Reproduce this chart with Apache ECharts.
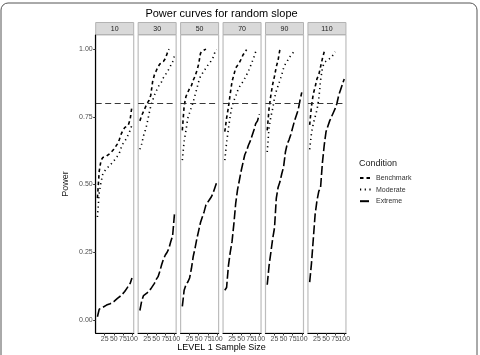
<!DOCTYPE html>
<html>
<head>
<meta charset="utf-8">
<script src="https://cdn.jsdelivr.net/npm/echarts@6/dist/echarts.min.js"></script>
<style>
  html, body { margin: 0; padding: 0; background: #fff; }
  #chart { width: 480px; height: 355px; }
</style>
</head>
<body>
<div id="chart"></div>
<script>
// level-2 sample sizes (facets) and level-1 sample sizes (x)
const panelLabels = ['10', '30', '50', '70', '90', '110']
const sampleSizes = [5, 10, 15, 20, 25, 30, 35, 40, 45, 50, 55, 60, 65, 70, 75, 80, 85, 90, 95, 100]
const conditions = ['Benchmark', 'Moderate', 'Extreme']
const yTicks = [0, 0.25, 0.5, 0.75, 1]
const xTicks = [25, 50, 75, 100]
const targetPower = 0.8

// power per panel, paired with sampleSizes by index
const benchmark = [
  [0.45, 0.55, 0.59, 0.60, 0.60, 0.605, 0.61, 0.615, 0.62, 0.63, 0.64, 0.65, 0.665, 0.685, 0.70, 0.71, 0.715, 0.72, 0.74, 0.79],
  [0.735, 0.755, 0.77, 0.785, 0.80, 0.81, 0.83, 0.88, 0.905, 0.92, 0.935, 0.945, 0.95, 0.955, 0.965, 0.984, 1.0],
  [0.70, 0.79, 0.825, 0.84, 0.855, 0.865, 0.885, 0.90, 0.92, 0.945, 0.985, 0.993, 0.995, 1.0],
  [0.695, 0.745, 0.785, 0.835, 0.88, 0.905, 0.93, 0.94, 0.95, 0.963, 0.978, 0.988, 0.998],
  [0.70, 0.78, 0.83, 0.87, 0.90, 0.935, 0.96, 1.0],
  [0.72, 0.79, 0.835, 0.86, 0.89, 0.905, 0.935, 0.965, 0.99]
]
const moderate = [
  [0.38, 0.47, 0.51, 0.54, 0.55, 0.56, 0.565, 0.57, 0.58, 0.585, 0.595, 0.605, 0.615, 0.635, 0.65, 0.66, 0.67, 0.685, 0.70, 0.72],
  [0.63, 0.65, 0.68, 0.70, 0.726, 0.76, 0.79, 0.81, 0.83, 0.845, 0.86, 0.87, 0.88, 0.895, 0.905, 0.915, 0.927, 0.94, 0.953, 0.975],
  [0.59, 0.66, 0.70, 0.745, 0.765, 0.785, 0.805, 0.83, 0.855, 0.88, 0.90, 0.91, 0.92, 0.93, 0.94, 0.948, 0.958, 0.97, 0.99, 0.998],
  [0.59, 0.655, 0.705, 0.755, 0.79, 0.81, 0.825, 0.845, 0.86, 0.87, 0.88, 0.892, 0.905, 0.918, 0.935, 0.952, 0.97, 0.99, 1.0],
  [0.62, 0.71, 0.75, 0.78, 0.82, 0.845, 0.865, 0.885, 0.905, 0.93, 0.945, 0.955, 0.968, 0.975, 0.985, 0.993],
  [0.63, 0.69, 0.725, 0.75, 0.775, 0.815, 0.885, 0.93, 0.95, 0.955, 0.96, 0.965, 0.97, 0.98, 0.99]
]
const extreme = [
  [0.012, 0.04, 0.045, 0.047, 0.05, 0.055, 0.058, 0.06, 0.065, 0.068, 0.075, 0.08, 0.085, 0.09, 0.095, 0.105, 0.115, 0.125, 0.135, 0.155],
  [0.035, 0.07, 0.09, 0.095, 0.10, 0.105, 0.115, 0.125, 0.135, 0.15, 0.16, 0.18, 0.205, 0.225, 0.24, 0.25, 0.265, 0.29, 0.31, 0.39],
  [0.05, 0.11, 0.13, 0.14, 0.155, 0.19, 0.235, 0.265, 0.30, 0.33, 0.36, 0.38, 0.40, 0.425, 0.435, 0.445, 0.455, 0.47, 0.49, 0.51],
  [0.11, 0.12, 0.20, 0.25, 0.29, 0.355, 0.43, 0.48, 0.515, 0.55, 0.58, 0.61, 0.625, 0.645, 0.66, 0.68, 0.70, 0.725, 0.735, 0.76],
  [0.13, 0.20, 0.25, 0.30, 0.34, 0.45, 0.49, 0.51, 0.54, 0.565, 0.62, 0.65, 0.665, 0.685, 0.71, 0.735, 0.755, 0.775, 0.81, 0.84],
  [0.14, 0.21, 0.30, 0.39, 0.44, 0.475, 0.49, 0.58, 0.645, 0.695, 0.715, 0.735, 0.75, 0.765, 0.78, 0.80, 0.83, 0.85, 0.87, 0.89]
]

const font = 'Liberation Sans, Arial, sans-serif'
const dashes = { Benchmark: [3.5, 3], Moderate: [1.2, 3.5], Extreme: [9, 3] }
const powerByCondition = { Benchmark: benchmark, Moderate: moderate, Extreme: extreme }

const panelLeft = 95.7
const panelPitch = 42.45
const panelWidth = 38
const panelTop = 35
const panelHeight = 298

const chart = echarts.init(document.getElementById('chart'), null, { renderer: 'canvas' })

const grids = []
const xAxes = []
const yAxes = []
const series = []
const graphics = []

const xLabelStyle = { fontSize: 7, margin: 3, color: '#4d4d4d', fontFamily: font }

panelLabels.forEach((label, i) => {
  const left = panelLeft + i * panelPitch
  grids.push({
    left: left, top: panelTop, width: panelWidth, height: panelHeight,
    show: true, borderColor: '#bdbdbd', borderWidth: 1.2, backgroundColor: '#fff'
  })
  // main x axis: line, all ticks, labels 25/50/75
  xAxes.push({
    gridIndex: i, type: 'value', min: 0.25, max: 104.75, position: 'bottom',
    axisLine: { show: true, onZero: false, lineStyle: { color: '#000', width: 1.2 } },
    axisTick: { show: true, length: 2.5, customValues: xTicks, lineStyle: { color: '#333' } },
    axisLabel: Object.assign({ show: true, customValues: xTicks.slice(0, 3) }, xLabelStyle),
    splitLine: { show: false }
  })
  // second bottom axis only for the last label, so it is not dropped for touching "75"
  xAxes.push({
    gridIndex: i, type: 'value', min: 0.25, max: 104.75, position: 'bottom',
    axisLine: { show: false }, axisTick: { show: false },
    axisLabel: Object.assign({ show: true, customValues: xTicks.slice(3) }, xLabelStyle),
    splitLine: { show: false }
  })
  yAxes.push({
    gridIndex: i, type: 'value', min: -0.048, max: 1.052,
    name: i === 0 ? 'Power' : '', nameLocation: 'middle', nameGap: 26, nameRotate: 90,
    nameTextStyle: { fontSize: 9, color: '#1a1a1a', fontFamily: font },
    axisLine: { show: i === 0, onZero: false, lineStyle: { color: '#000', width: 1.2 } },
    axisTick: { show: i === 0, length: 2.5, customValues: yTicks, lineStyle: { color: '#333' } },
    axisLabel: {
      show: i === 0, customValues: yTicks, fontSize: 7, margin: 3, color: '#4d4d4d', fontFamily: font,
      formatter: v => v.toFixed(2)
    },
    splitLine: { show: false }
  })
  conditions.forEach(cond => {
    const vals = powerByCondition[cond][i]
    const s = {
      name: cond, type: 'line', xAxisIndex: i * 2, yAxisIndex: i,
      data: vals.map((v, k) => [sampleSizes[k], v]),
      symbol: 'none', silent: true, z: 3,
      lineStyle: { color: '#000', width: 1.6, type: dashes[cond] },
      itemStyle: { color: '#000' }
    }
    if (cond === 'Benchmark') {
      s.markLine = {
        silent: true, symbol: 'none', label: { show: false },
        lineStyle: { color: '#222', width: 0.9, type: [6, 3.5] },
        data: [{ yAxis: targetPower }]
      }
    }
    series.push(s)
  })
  // facet strip
  graphics.push({
    type: 'rect', shape: { x: left, y: 22.5, width: panelWidth, height: 12 },
    style: { fill: '#d9d9d9', stroke: '#b3b3b3', lineWidth: 1 }
  })
  graphics.push({
    type: 'text', x: left + panelWidth / 2, y: 28.8,
    style: { text: label, fontSize: 7, fill: '#1a1a1a', fontFamily: font, align: 'center', verticalAlign: 'middle' }
  })
})

graphics.push(
  {
    type: 'rect', shape: { x: 1, y: 3, width: 476, height: 362, r: 7 },
    style: { fill: 'none', stroke: '#555', lineWidth: 1 }, z: 100
  },
  {
    type: 'text', x: 221.5, y: 13.5,
    style: { text: 'Power curves for random slope', fontSize: 11, fill: '#000', fontFamily: font, align: 'center', verticalAlign: 'middle' }
  },
  {
    type: 'text', x: 221.5, y: 348,
    style: { text: 'LEVEL 1 Sample Size', fontSize: 9, fill: '#000', fontFamily: font, align: 'center', verticalAlign: 'middle' }
  },
  {
    type: 'text', x: 359, y: 164,
    style: { text: 'Condition', fontSize: 9, fill: '#1a1a1a', fontFamily: font, align: 'left', verticalAlign: 'middle' }
  }
)

chart.setOption({
  animation: false,
  grid: grids,
  xAxis: xAxes,
  yAxis: yAxes,
  legend: {
    data: conditions, orient: 'vertical', left: 359, top: 174.5, padding: 0,
    itemWidth: 11, itemHeight: 8, itemGap: 4.6,
    selectedMode: false,
    itemStyle: { color: 'rgba(0,0,0,0)', borderWidth: 0 },
    textStyle: { fontSize: 7, color: '#333', fontFamily: font }
  },
  graphic: graphics,
  series: series
})
</script>
</body>
</html>
